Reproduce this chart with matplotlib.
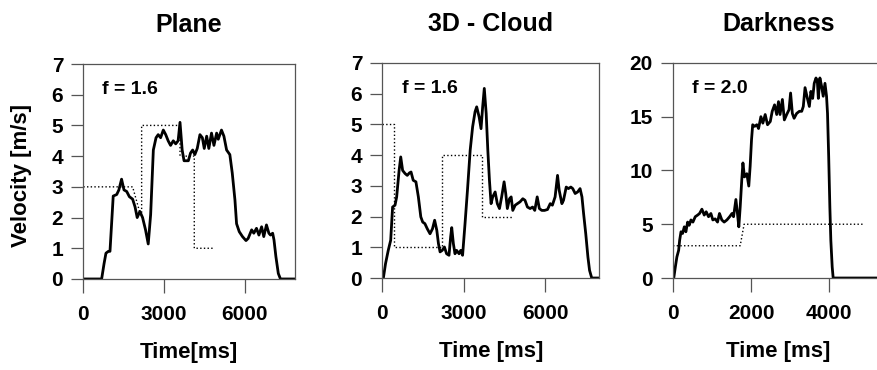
import matplotlib
matplotlib.use('Agg')
import matplotlib.pyplot as plt

plt.rcParams['font.family'] = ['Liberation Sans', 'DejaVu Sans']
plt.rcParams['font.weight'] = 'bold'

# measured velocity, Plane
plane_t = [0, 680, 770, 840, 930, 990, 1110, 1240, 1320, 1420, 1510, 1610, 1710, 1830, 1920,
           2000, 2100, 2200, 2310, 2410, 2500, 2600, 2700, 2780, 2870, 2970, 3060, 3150, 3240,
           3340, 3430, 3520, 3590, 3670, 3740, 3900, 3980, 4060, 4140, 4230, 4330, 4420, 4490,
           4580, 4660, 4760, 4850, 4950, 5010, 5130, 5220, 5320, 5440, 5530, 5630, 5690, 5790,
           5910, 6040, 6120, 6250, 6330, 6430, 6520, 6620, 6700, 6800, 6890, 6950, 7030, 7080,
           7150, 7240, 7320, 7860]
plane_v = [0, 0, 0.5, 0.84, 0.9, 0.9, 2.7, 2.75, 2.9, 3.25, 2.9, 2.85, 2.68, 2.6, 2.35,
           2.0, 2.2, 2.0, 1.6, 1.14, 2.1, 4.2, 4.6, 4.7, 4.6, 4.85, 4.7, 4.5, 4.35,
           4.5, 4.4, 4.5, 5.1, 4.2, 3.85, 3.85, 4.1, 4.2, 4.05, 4.25, 4.7, 4.6, 4.25,
           4.65, 4.25, 4.75, 4.35, 4.75, 4.55, 4.85, 4.65, 4.2, 4.05, 3.45, 2.57, 1.8, 1.54,
           1.38, 1.25, 1.32, 1.6, 1.49, 1.65, 1.43, 1.7, 1.38, 1.76, 1.49, 1.43, 1.49, 1.27,
           0.73, 0.18, 0, 0]
plane_ref_t = [0, 1830, 2120, 2165, 2165, 3590, 3590, 4120, 4120, 4820]
plane_ref_v = [3, 3, 2.1, 2.1, 5, 5, 4, 4, 1, 1]

# measured velocity, 3D - Cloud
cloud_t = [0, 40, 120, 220, 310, 380, 470, 530, 620, 680, 750, 840, 920, 1000, 1060,
           1140, 1240, 1330, 1420, 1490, 1570, 1660, 1760, 1850, 1930, 2010, 2070, 2130, 2210,
           2290, 2370, 2460, 2520, 2560, 2620, 2680, 2740, 2830, 2890, 2960, 3050, 3140, 3240,
           3330, 3420, 3480, 3570, 3640, 3700, 3760, 3830, 3890, 3950, 4010, 4070, 4160, 4240,
           4320, 4400, 4490, 4550, 4610, 4690, 4750, 4810, 4900, 4980, 5080, 5180, 5260, 5350,
           5450, 5540, 5620, 5710, 5790, 5880, 5980, 6090, 6190, 6270, 6370, 6460, 6520, 6620,
           6680, 6780, 6860, 6950, 7020, 7110, 7200, 7290, 7360, 7420, 7500, 7580, 7640, 7720,
           8000]
cloud_v = [0, 0, 0.47, 0.9, 1.23, 2.31, 2.37, 2.64, 3.5, 3.94, 3.5, 3.4, 3.34, 3.42, 3.45,
           3.18, 3.13, 2.64, 1.99, 1.82, 1.77, 1.6, 1.44, 1.6, 1.88, 1.55, 1.12, 0.85, 0.9,
           1.01, 0.79, 0.74, 1.34, 1.64, 1.12, 0.79, 0.9, 0.79, 0.9, 0.74, 1.77, 2.86, 4.16,
           4.92, 5.41, 5.57, 5.24, 4.86, 5.57, 6.17, 5.35, 4.16, 3.18, 2.42, 2.64, 2.8, 2.42,
           2.26, 2.64, 3.13, 2.75, 2.26, 2.58, 2.64, 2.2, 2.37, 2.42, 2.48, 2.58, 2.53, 2.31,
           2.26, 2.31, 2.2, 2.64, 2.26, 2.2, 2.2, 2.23, 2.42, 2.37, 2.64, 3.34, 2.86, 2.42,
           2.53, 2.96, 2.91, 2.96, 2.91, 2.75, 2.8, 2.91, 2.64, 2.1, 1.44, 0.68, 0.25, 0,
           0]
cloud_ref_t = [0, 420, 420, 2190, 2190, 3660, 3660, 4830]
cloud_ref_v = [5, 5, 1, 1, 4, 4, 2, 2]

# measured velocity, Darkness
dark_t = [0, 20, 60, 100, 145, 170, 205, 245, 290, 330, 375, 415, 460, 510, 570,
          630, 680, 740, 800, 850, 910, 970, 1020, 1080, 1140, 1190, 1250, 1310, 1380, 1450,
          1510, 1550, 1610, 1650, 1685, 1720, 1760, 1790, 1830, 1890, 1940, 1975, 2010, 2040,
          2090, 2145, 2190, 2250, 2300, 2360, 2420, 2490, 2540, 2600, 2655, 2700, 2740, 2800,
          2850, 2910, 2970, 3010, 3055, 3100, 3165, 3235, 3295, 3335, 3380, 3440, 3490, 3530,
          3575, 3615, 3660, 3695, 3720, 3760, 3805, 3845, 3890, 3930, 3955, 3985, 4015, 4040,
          4075, 4100, 5400]
dark_v = [0, 0, 1.03, 1.96, 2.58, 3.5, 4.3, 4.14, 4.76, 4.3, 5.2, 4.9, 5.4, 5.2, 5.7,
          5.85, 6.0, 6.4, 5.85, 6.16, 5.7, 6.0, 5.4, 5.5, 5.2, 6.0, 5.4, 5.2, 5.4, 5.7,
          6.0, 5.7, 7.3, 6.0, 4.76, 6.6, 9.1, 10.7, 9.4, 9.7, 8.55, 10.4, 12.85, 14.25,
          14.1, 14.25, 13.9, 15.0, 14.4, 15.2, 14.25, 14.55, 15.5, 16.1, 15.2, 16.4, 15.2, 16.6,
          14.7, 15.2, 15.65, 17.2, 15.3, 14.85, 15.3, 15.5, 15.5, 15.95, 17.7, 16.7, 15.95, 17.35,
          16.7, 18.1, 18.6, 18.3, 16.7, 18.6, 17.8, 16.9, 18.1, 16.9, 15.3, 11.3, 6.6, 3.5,
          1.03, 0, 0]
dark_ref_t = [0, 1720, 1820, 4870]
dark_ref_v = [3, 3, 5, 5]

panels = [
    dict(title='Plane', xlabel='Time[ms]', label='f = 1.6', t=plane_t, v=plane_v,
         rt=plane_ref_t, rv=plane_ref_v, xlim=7860, ylim=7, xticks=[0, 3000, 6000],
         yticks=range(8), rect=[0.0949, 0.246, 0.2411, 0.581]),
    dict(title='3D - Cloud', xlabel='Time [ms]', label='f = 1.6', t=cloud_t, v=cloud_v,
         rt=cloud_ref_t, rv=cloud_ref_v, xlim=8000, ylim=7, xticks=[0, 3000, 6000],
         yticks=range(8), rect=[0.4354, 0.2486, 0.2472, 0.5814]),
    dict(title='Darkness', xlabel='Time [ms]', label='f = 2.0', t=dark_t, v=dark_v,
         rt=dark_ref_t, rv=dark_ref_v, xlim=5400, ylim=20, xticks=[0, 2000, 4000],
         yticks=[0, 5, 10, 15, 20], rect=[0.7665, 0.2486, 0.2403, 0.5814]),
]

fig = plt.figure(figsize=(8.78, 3.70), dpi=100)

for p in panels:
    ax = fig.add_axes(p['rect'])
    ax.plot(p['t'], p['v'], color='black', linewidth=2.0, solid_joinstyle='round')
    ax.plot(p['rt'], p['rv'], color='black', linestyle=':', linewidth=1.0)
    ax.set_xlim(0, p['xlim'])
    ax.set_ylim(0, p['ylim'])
    ax.set_xticks(p['xticks'])
    ax.set_yticks(list(p['yticks']))
    for s in ax.spines.values():
        s.set_color('#555555')
        s.set_linewidth(0.9)
    ax.tick_params(axis='x', direction='out', length=10, width=0.9, color='#555555',
                   labelsize=15, pad=9)
    ax.tick_params(axis='y', direction='out', length=8.5, width=0.9, color='#555555',
                   labelsize=15, pad=6)
    for lab in ax.get_xticklabels() + ax.get_yticklabels():
        lab.set_fontweight('bold')
    ax.set_title(p['title'], fontsize=18, fontweight='bold', pad=23)
    ax.set_xlabel(p['xlabel'], fontsize=16, fontweight='bold', labelpad=13)
    ax.text(0.09, 0.88, p['label'], transform=ax.transAxes, fontsize=14,
            fontweight='bold', va='center', ha='left')

fig.text(0.025, 0.527, 'Velocity [m/s]', rotation=90, fontsize=16, fontweight='bold',
         ha='center', va='center')

plt.savefig('out.png', dpi=100)
